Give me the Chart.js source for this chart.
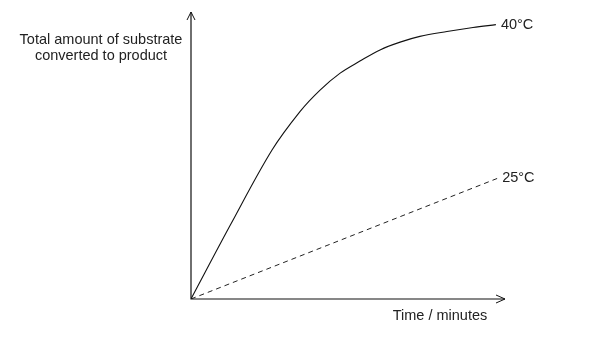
<!DOCTYPE html>
<html>
<head>
<meta charset="utf-8">
<script src="https://cdn.jsdelivr.net/npm/chart.js@4/dist/chart.umd.min.js"></script>
<style>
html, body { margin: 0; padding: 0; background: #fff; }
#wrap { width: 596px; height: 339px; }
</style>
</head>
<body>
<div id="wrap"><canvas id="chart"></canvas></div>
<script>
// values (arbitrary units)
var time40 = [0, 1.27, 2.58, 3.47, 4.11, 4.75, 5.38, 6.02, 6.66, 7.29, 8.15, 8.98, 9.71];
var amount40 = [0, 2.61, 5.19, 6.53, 7.28, 7.87, 8.29, 8.68, 8.95, 9.15, 9.32, 9.46, 9.56];
var time25 = [0, 9.75];
var amount25 = [0, 4.2];
var seriesNames = ["40\u00B0C", "25\u00B0C"];
var yTitle = ["Total amount of substrate", "converted to product"];
var xTitle = "Time / minutes";

function toPoints(xs, ys) {
	var pts = [];
	for (var i = 0; i < xs.length; ++i) {
		pts.push({ x: xs[i], y: ys[i] });
	}
	return pts;
}

var font = "14.5px 'Liberation Sans', Arial, sans-serif";

//Draw the arrowed axes and the text labels.
var sketchAxes = {
	id: "sketchAxes",
	afterDraw: function (chart) {
		var ctx = chart.ctx;
		var a = chart.chartArea;
		ctx.save();
		ctx.strokeStyle = "#111";
		ctx.lineWidth = 1.2;
		ctx.beginPath();
		ctx.moveTo(a.left, a.top);
		ctx.lineTo(a.left, a.bottom);
		ctx.lineTo(a.right, a.bottom);
		ctx.stroke();
		// arrow heads
		ctx.lineWidth = 1;
		ctx.beginPath();
		ctx.moveTo(a.left - 4, a.top + 8);
		ctx.lineTo(a.left, a.top);
		ctx.lineTo(a.left + 4, a.top + 8);
		ctx.moveTo(a.right - 9, a.bottom - 4);
		ctx.lineTo(a.right, a.bottom);
		ctx.lineTo(a.right - 9, a.bottom + 4);
		ctx.stroke();

		ctx.fillStyle = "#222";
		ctx.font = font;
		ctx.textBaseline = "middle";
		ctx.textAlign = "center";
		ctx.fillText(yTitle[0], 101, 40);
		ctx.fillText(yTitle[1], 101, 56);
		ctx.fillText(xTitle, 440, 316);

		ctx.textAlign = "left";
		for (var i = 0; i < chart.data.datasets.length; ++i) {
			var pts = chart.getDatasetMeta(i).data;
			var last = pts[pts.length - 1];
			ctx.fillText(seriesNames[i], last.x + 5, last.y);
		}
		ctx.restore();
	}
};

new Chart(document.getElementById("chart"), {
	type: "line",
	data: {
		datasets: [
			{
			label: seriesNames[0],
			data: toPoints(time40, amount40),
			borderColor: "#111",
			borderWidth: 1.1,
			pointRadius: 0,
			tension: 0.35,
			fill: false
			},
			{
			label: seriesNames[1],
			data: toPoints(time25, amount25),
			borderColor: "#222",
			borderWidth: 1,
			borderDash: [5, 4],
			pointRadius: 0,
			fill: false
			}
		]
	},
	options: {
		responsive: true,
		maintainAspectRatio: false,
		animation: false,
		layout: { padding: { left: 191, right: 91, top: 12, bottom: 40 } },
		plugins: {
			legend: { display: false },
			tooltip: { enabled: false }
		},
		scales: {
			x: { type: "linear", min: 0, max: 10, display: false },
			y: { min: 0, max: 10, display: false }
		}
	},
	plugins: [sketchAxes]
});
</script>
</body>
</html>
